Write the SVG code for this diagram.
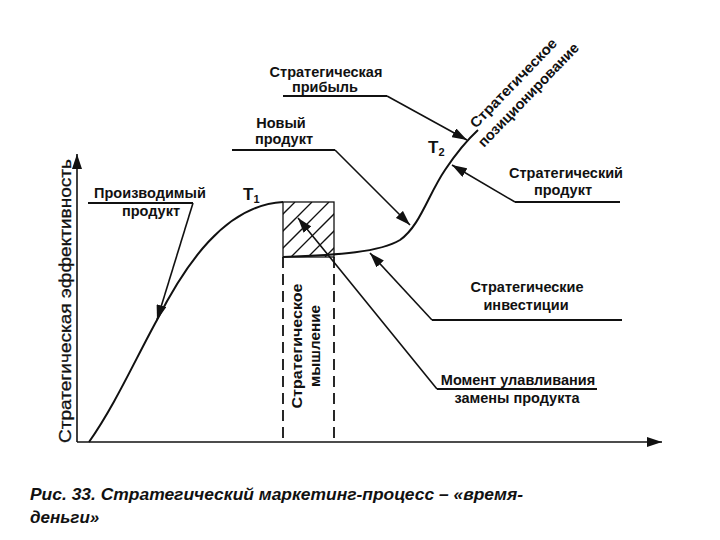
<svg xmlns="http://www.w3.org/2000/svg" width="720" height="540" viewBox="0 0 720 540">
<style>
  .lbl { font-family: "Liberation Sans", Arial, sans-serif; font-size: 14.5px; font-weight: bold; fill: #111; text-anchor: middle; }
  .axl { font-family: "Liberation Sans", Arial, sans-serif; font-size: 17px; fill: #111; text-anchor: middle; }
  .cap { font-family: "Liberation Sans", Arial, sans-serif; font-size: 17px; font-weight: bold; font-style: italic; fill: #111; }
  .ln { fill: none; stroke: #111; stroke-width: 1.6; }
  .ul { fill: none; stroke: #111; stroke-width: 1.8; }
  .crv { fill: none; stroke: #111; stroke-width: 2; }
  .dash { fill: none; stroke: #111; stroke-width: 1.8; stroke-dasharray: 11 6; }
  .hatch { stroke: #111; stroke-width: 1.3; }
</style>
<defs>
  <marker id="arr" markerUnits="userSpaceOnUse" markerWidth="15" markerHeight="10" refX="15" refY="5" orient="auto">
    <path d="M0,0 L15,5 L0,10 z" fill="#111"/>
  </marker>
  <clipPath id="boxclip"><rect x="283" y="202" width="51" height="55"/></clipPath>
</defs>
<rect width="720" height="540" fill="#fff"/>

<g id="axes">
  <line class="ln" x1="77" y1="442" x2="77" y2="154" marker-end="url(#arr)"/>
  <line class="ln" x1="77" y1="442" x2="662" y2="442" marker-end="url(#arr)"/>
  <text class="axl" transform="translate(71,301) rotate(-90)" textLength="284" lengthAdjust="spacingAndGlyphs" stroke="#111" stroke-width="0.3">Стратегическая эффективность</text>
</g>

<g id="curve">
  <path class="crv" d="M89,442 C115,405 135,360 157,320 C185,265 225,205 283,202"/>
  <path class="crv" d="M283,257 C340,255 380,252 400,240 C420,226 428,195 445,170 C455,155 465,142 478,130"/>
</g>

<g id="thinking-box">
  <g clip-path="url(#boxclip)">
    <line class="hatch" x1="240" y1="257" x2="295" y2="202"/>
    <line class="hatch" x1="257" y1="257" x2="312" y2="202"/>
    <line class="hatch" x1="274" y1="257" x2="329" y2="202"/>
    <line class="hatch" x1="291" y1="257" x2="346" y2="202"/>
    <line class="hatch" x1="308" y1="257" x2="363" y2="202"/>
    <line class="hatch" x1="325" y1="257" x2="380" y2="202"/>
  </g>
  <rect x="283" y="202" width="51" height="55" fill="none" stroke="#111" stroke-width="1.3"/>
  <line class="dash" x1="283" y1="257" x2="283" y2="442"/>
  <line class="dash" x1="334" y1="257" x2="334" y2="442"/>
  <text class="lbl" transform="translate(302,346) rotate(-90)" textLength="125" lengthAdjust="spacingAndGlyphs">Стратегическое</text>
  <text class="lbl" transform="translate(320,346) rotate(-90)" textLength="82" lengthAdjust="spacingAndGlyphs">мышление</text>
</g>

<g id="connectors">
  <polyline class="ul" points="88,203 193,203"/>
  <polyline class="ln" points="193,203 157,320" marker-end="url(#arr)"/>
  <polyline class="ul" points="232,150 335,150"/>
  <polyline class="ln" points="335,150 410,225" marker-end="url(#arr)"/>
  <polyline class="ul" points="283,96 387,96"/>
  <polyline class="ln" points="387,96 467,140" marker-end="url(#arr)"/>
  <polyline class="ul" points="620,202 515,202"/>
  <polyline class="ln" points="515,202 452,165" marker-end="url(#arr)"/>
  <polyline class="ul" points="622,320 432,320"/>
  <polyline class="ln" points="432,320 370,253" marker-end="url(#arr)"/>
  <polyline class="ul" points="597,389 437,389"/>
  <polyline class="ln" points="437,389 298,218" marker-end="url(#arr)"/>
</g>

<g id="produced-product">
  <text class="lbl" x="150" y="198">Производимый</text>
  <text class="lbl" x="151" y="216">продукт</text>
</g>
<g id="new-product">
  <text class="lbl" x="281" y="128">Новый</text>
  <text class="lbl" x="284" y="144">продукт</text>
</g>
<g id="strategic-profit">
  <text class="lbl" x="326" y="77">Стратегическая</text>
  <text class="lbl" x="325" y="92">прибыль</text>
</g>
<g id="strategic-product">
  <text class="lbl" x="566" y="178">Стратегический</text>
  <text class="lbl" x="563" y="195">продукт</text>
</g>
<g id="strategic-investments">
  <text class="lbl" x="527" y="292">Стратегические</text>
  <text class="lbl" x="526" y="310">инвестиции</text>
</g>
<g id="capture-moment">
  <text class="lbl" x="518" y="385">Момент улавливания</text>
  <text class="lbl" x="517" y="403">замены продукта</text>
</g>
<g id="positioning">
  <text class="lbl" style="text-anchor:start" transform="translate(476,129) rotate(-46)" textLength="118" lengthAdjust="spacingAndGlyphs">Стратегическое</text>
  <text class="lbl" style="text-anchor:start" transform="translate(484,148) rotate(-46)" textLength="138" lengthAdjust="spacingAndGlyphs">позиционирование</text>
</g>
<g id="t1">
  <text class="lbl" style="text-anchor:start;font-size:17px" x="243" y="200">T<tspan font-size="11" dy="3">1</tspan></text>
</g>
<g id="t2">
  <text class="lbl" style="text-anchor:start;font-size:17px" x="428" y="153">T<tspan font-size="11" dy="3">2</tspan></text>
</g>

<g id="caption">
  <text class="cap" x="30" y="500" textLength="493" lengthAdjust="spacingAndGlyphs">Рис. 33. Стратегический маркетинг-процесс – «время-</text>
  <text class="cap" x="30" y="523">деньги»</text>
</g>
</svg>
